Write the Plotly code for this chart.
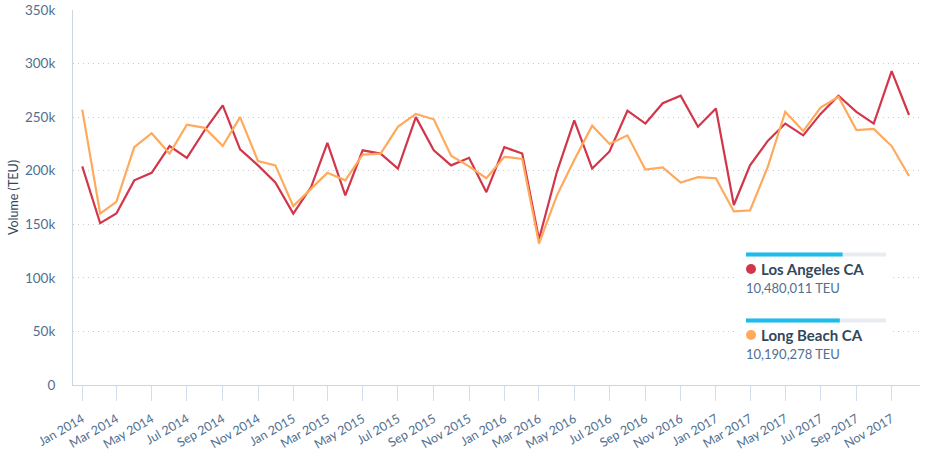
import plotly.graph_objects as go
import pandas as pd

months = pd.date_range("2014-01-01", "2017-12-01", freq="MS")

los_angeles = [204, 151, 160, 191, 198, 223, 212, 238, 261, 220, 205, 189,
               160, 185, 226, 177, 219, 216, 202, 250, 219, 205, 212, 180,
               222, 216, 136, 199, 247, 202, 218, 256, 244, 263, 270, 241,
               258, 168, 205, 228, 244, 233, 253, 270, 255, 244, 293, 252]
long_beach = [257, 160, 171, 222, 235, 216, 243, 240, 223, 250, 209, 205,
              167, 183, 198, 191, 215, 216, 241, 253, 248, 214, 204, 193,
              213, 211, 132, 177, 210, 242, 225, 233, 201, 203, 189, 194,
              193, 162, 163, 204, 255, 237, 259, 269, 238, 239, 223, 195]

series_names = ["Los Angeles CA", "Long Beach CA"]
series_totals = ["10,480,011 TEU", "10,190,278 TEU"]
series_share = [0.69, 0.67]
series_colors = ["#D1364A", "#FFA95B"]

y_tickvals = [0, 50000, 100000, 150000, 200000, 250000, 300000, 350000]
y_ticktext = ["0", "50k", "100k", "150k", "200k", "250k", "300k", "350k"]

FONT = "Lato"
SLATE = "#33475B"
TICK = "#516F90"

W, H = 925, 459

fig = go.Figure()
for name, vals, col in zip(series_names, [los_angeles, long_beach], series_colors):
    fig.add_trace(go.Scatter(
        x=months, y=[v * 1000 for v in vals], mode="lines", name=name,
        line=dict(color=col, width=2.2), showlegend=False))

# plot-area geometry in page pixels
L, R, T, B = 73, 920, 10, 385
def px(x):
    return (x - L) / (R - L)
def py(y):
    return (B - y) / (B - T)

shapes = []
annotations = []
shapes.append(dict(type="rect", xref="paper", yref="paper",
                   x0=px(736), x1=px(889), y0=py(364), y1=py(247),
                   fillcolor="white", line=dict(width=0), layer="above"))
bar_y = [254.5, 320.5]
for i, (name, total, share, col) in enumerate(zip(series_names, series_totals, series_share, series_colors)):
    by = bar_y[i]
    shapes.append(dict(type="line", xref="paper", yref="paper",
                       x0=px(746), x1=px(886), y0=py(by), y1=py(by),
                       line=dict(color="#E8ECF1", width=4), layer="above"))
    shapes.append(dict(type="line", xref="paper", yref="paper",
                       x0=px(746), x1=px(746 + 140 * share), y0=py(by), y1=py(by),
                       line=dict(color="#1BBDEB", width=4), layer="above"))
    cy = by + 14.5
    shapes.append(dict(type="circle", xref="paper", yref="paper",
                       x0=px(746), x1=px(756), y0=py(cy + 5), y1=py(cy - 5),
                       fillcolor=col, line=dict(width=0), layer="above"))
    annotations.append(dict(xref="paper", yref="paper", x=px(759), y=py(cy),
                            xanchor="left", yanchor="middle", showarrow=False,
                            text="<b>" + name + "</b>",
                            font=dict(family=FONT, size=15, color=SLATE)))
    annotations.append(dict(xref="paper", yref="paper", x=px(744), y=py(cy + 19),
                            xanchor="left", yanchor="middle", showarrow=False,
                            text=total,
                            font=dict(family=FONT, size=13, color=TICK)))

annotations.append(dict(xref="paper", yref="paper", x=px(13), y=py(197),
                        xanchor="center", yanchor="middle", showarrow=False,
                        textangle=-90, text="Volume (TEU)",
                        font=dict(family=FONT, size=12.5, color=SLATE)))

fig.update_layout(
    width=W, height=H,
    margin=dict(l=L, r=W - R, t=T, b=H - B),
    paper_bgcolor="white", plot_bgcolor="white",
    font=dict(family=FONT, color=TICK, size=12),
    shapes=shapes, annotations=annotations,
    xaxis=dict(
        type="date", automargin=False,
        range=["2013-12-16", "2017-12-20"],
        tick0="2014-01-01", dtick="M2", tickformat="%b %Y",
        tickangle=-30, ticks="outside", ticklen=15, tickcolor="#D3DDEE",
        ticklabelstandoff=6,
        showline=True, linecolor="#CBD6E2", linewidth=1,
        showgrid=False, zeroline=False,
        tickfont=dict(family=FONT, size=12.5, color=TICK),
    ),
    yaxis=dict(
        range=[0, 350000], automargin=False, ticklabeloverflow="allow",
        tickvals=y_tickvals, ticktext=y_ticktext,
        showline=True, linecolor="#CBD6E2", linewidth=1,
        showgrid=True, gridcolor="#C3CDD9", griddash="1px,4px", gridwidth=1,
        zeroline=False, ticks="", ticklabelstandoff=14,
        tickfont=dict(family=FONT, size=13.5, color=TICK),
    ),
)

fig.write_html("out.html", config={"displayModeBar": False},
               post_script="document.body.style.margin='0px';document.body.style.overflow='hidden';")
